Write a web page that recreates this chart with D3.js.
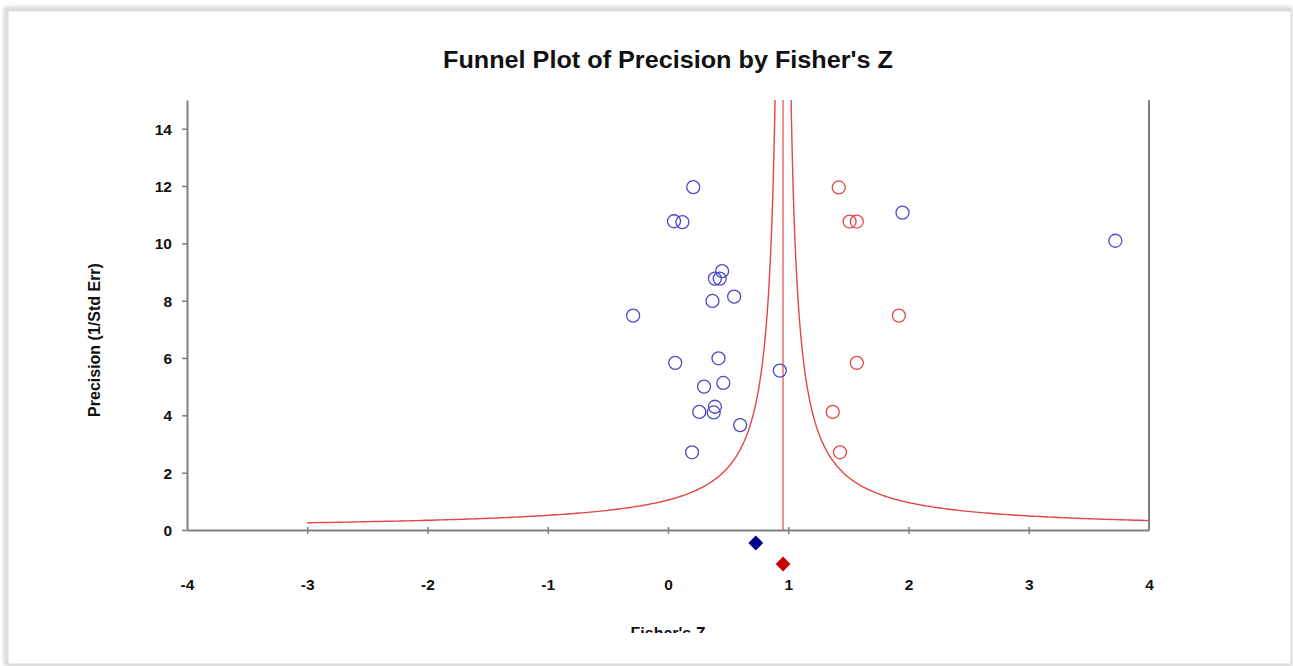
<!DOCTYPE html>
<html>
<head>
<meta charset="utf-8">
<script src="https://cdn.jsdelivr.net/npm/d3@7"></script>
<style>
  body { margin: 0; background: #fff; }
  text { font-family: "Liberation Sans", Arial, sans-serif; font-weight: bold; fill: #111; }
</style>
</head>
<body>
<script>
const WIDTH = 1293;
const HEIGHT = 666;

// axes
const xTicks = [-4, -3, -2, -1, 0, 1, 2, 3, 4];
const yTicks = [0, 2, 4, 6, 8, 10, 12, 14];

// observed studies (Fisher's Z, precision)
const observedZ = [0.21, 0.05, 0.12, 0.45, 0.39, 0.43, 0.55, 0.37, -0.29, 0.06, 0.42, 0.93,
    0.46, 0.30, 0.39, 0.38, 0.26, 0.60, 0.20, 1.95, 3.72];
const observedPrecision = [11.96, 10.77, 10.74, 9.03, 8.77, 8.77, 8.14, 7.99, 7.48, 5.83, 5.99, 5.56,
    5.13, 5.00, 4.30, 4.10, 4.12, 3.66, 2.71, 11.07, 10.09];

// imputed studies (trim and fill)
const imputedZ = [1.42, 1.51, 1.57, 1.92, 1.57, 1.37, 1.43];
const imputedPrecision = [11.95, 10.76, 10.76, 7.48, 5.83, 4.12, 2.71];

// summary estimates
const observedEstimate = 0.73;
const adjustedEstimate = 0.957;

// funnel range
const funnelLeftEnd = -3;
const funnelRightEnd = 4;

const margin = { left: 187, right: WIDTH - 1149, top: 100, bottom: HEIGHT - 530 };

const svg = d3.select('body').append('svg')
    .attr('width', WIDTH)
    .attr('height', HEIGHT)
    .attr('viewBox', [0, 0, WIDTH, HEIGHT]);

const x = d3.scaleLinear().domain([-4, 4]).range([margin.left, WIDTH - margin.right]);
const y = d3.scaleLinear().domain([0, 15]).range([HEIGHT - margin.bottom, margin.top]);

// window frame
const defs = svg.append('defs');
const blur = defs.append('filter').attr('id', 'shadow').attr('x', '-5%').attr('y', '-5%')
    .attr('width', '110%').attr('height', '110%');
blur.append('feGaussianBlur').attr('stdDeviation', 2);
defs.append('clipPath').attr('id', 'pageClip')
    .append('rect').attr('x', 0).attr('y', 0).attr('width', WIDTH).attr('height', 633);

svg.append('rect')
    .attr('x', 6).attr('y', 9).attr('width', 1284).attr('height', 655)
    .attr('fill', 'none').attr('stroke', '#bdbdbd').attr('stroke-width', 3)
    .attr('filter', 'url(#shadow)');
svg.append('rect')
    .attr('x', 8).attr('y', 11).attr('width', 1283).attr('height', 653)
    .attr('fill', '#fff').attr('stroke', '#d8d8d8').attr('stroke-width', 1);

const page = svg.append('g').attr('clip-path', 'url(#pageClip)');

page.append('text')
    .attr('x', 668).attr('y', 68)
    .attr('text-anchor', 'middle')
    .attr('font-size', 23)
    .attr('textLength', 450)
    .attr('lengthAdjust', 'spacingAndGlyphs')
    .text("Funnel Plot of Precision by Fisher's Z");

// funnel
const precisionSamples = d3.range(0, 301).map(i => 0.25 * Math.pow(15 / 0.25, i / 300));
const leftCurve = precisionSamples
    .map(p => [adjustedEstimate - 1 / p, p])
    .filter(d => d[0] >= funnelLeftEnd);
const rightCurve = precisionSamples
    .map(p => [adjustedEstimate + 1 / p, p])
    .filter(d => d[0] <= funnelRightEnd);
leftCurve.unshift([funnelLeftEnd, 1 / (adjustedEstimate - funnelLeftEnd)]);
rightCurve.unshift([funnelRightEnd, 1 / (funnelRightEnd - adjustedEstimate)]);

const line = d3.line().x(d => x(d[0])).y(d => y(d[1]));
page.append('g')
        .attr('fill', 'none')
        .attr('stroke', '#e24646')
        .attr('stroke-width', 1.4)
    .selectAll('path')
    .data([leftCurve, rightCurve])
    .join('path')
        .attr('d', line);

page.append('line')
    .attr('x1', x(adjustedEstimate)).attr('x2', x(adjustedEstimate))
    .attr('y1', y(0)).attr('y2', y(15))
    .attr('stroke', '#e88a8a').attr('stroke-width', 1.8);

// axes
const axisColor = '#808080';
const tickFormat = d => String(d);
const yAxis = page.append('g')
    .attr('transform', `translate(${x(-4)},0)`)
    .call(d3.axisLeft(y).tickValues(yTicks).tickFormat(tickFormat)
        .tickSize(5).tickSizeOuter(0).tickPadding(10));
yAxis.select('.domain').attr('stroke', axisColor).attr('stroke-width', 2);
yAxis.selectAll('.tick line').attr('stroke', axisColor).attr('stroke-width', 1.5);
yAxis.selectAll('.tick text').attr('font-size', 15.5).attr('font-family', null).attr('dy', '0.35em');

const xAxis = page.append('g')
    .attr('transform', `translate(0,${y(0)})`)
    .call(d3.axisBottom(x).tickValues(xTicks).tickFormat(tickFormat)
        .tickSize(4).tickSizeOuter(0).tickPadding(45));
xAxis.select('.domain').attr('stroke', axisColor).attr('stroke-width', 2);
xAxis.selectAll('.tick line').attr('stroke', axisColor).attr('stroke-width', 1.5).attr('y1', -3);
xAxis.selectAll('.tick text').attr('font-size', 15.5).attr('font-family', null);
xAxis.select('.tick:first-of-type line').remove();
xAxis.select('.tick:last-of-type line').remove();

page.append('line')
    .attr('x1', x(4)).attr('x2', x(4))
    .attr('y1', y(0)).attr('y2', y(15))
    .attr('stroke', axisColor).attr('stroke-width', 2);

page.append('text')
    .attr('transform', `translate(100,${(y(0) + y(15)) / 2 + 25}) rotate(-90)`)
    .attr('text-anchor', 'middle')
    .attr('font-size', 16)
    .text('Precision (1/Std Err)');

page.append('text')
    .attr('x', 668).attr('y', 639)
    .attr('text-anchor', 'middle')
    .attr('font-size', 16)
    .text("Fisher's Z");

// studies
page.append('g')
        .attr('fill', 'none')
        .attr('stroke', '#4b4bc6')
        .attr('stroke-width', 1.3)
    .selectAll('circle')
    .data(d3.zip(observedZ, observedPrecision))
    .join('circle')
        .attr('cx', d => x(d[0]))
        .attr('cy', d => y(d[1]))
        .attr('r', 6.5);

page.append('g')
        .attr('fill', 'none')
        .attr('stroke', '#e04848')
        .attr('stroke-width', 1.3)
    .selectAll('circle')
    .data(d3.zip(imputedZ, imputedPrecision))
    .join('circle')
        .attr('cx', d => x(d[0]))
        .attr('cy', d => y(d[1]))
        .attr('r', 6.5);

// summary diamonds
const diamond = d3.symbol().type(d3.symbolDiamond2).size(140);
page.append('path')
    .attr('d', diamond())
    .attr('transform', `translate(${x(observedEstimate)},${y(0) + 13})`)
    .attr('fill', '#00008b');
page.append('path')
    .attr('d', diamond())
    .attr('transform', `translate(${x(adjustedEstimate)},${y(0) + 34})`)
    .attr('fill', '#cc0000');
</script>
</body>
</html>
